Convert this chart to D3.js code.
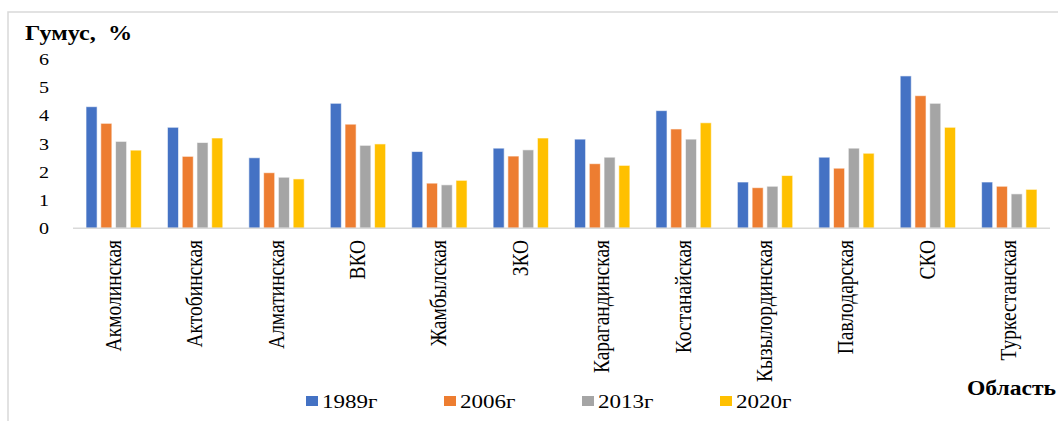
<!DOCTYPE html>
<html>
<head>
<meta charset="utf-8">
<script src="https://cdn.jsdelivr.net/npm/d3@7"></script>
<style>
  body { margin: 0; background: #fff; }
  svg text { font-family: "Liberation Serif", "Times New Roman", serif; fill: #000; }
</style>
</head>
<body>
<div id="chart"></div>
<script>
const regions = ["Акмолинская", "Актобинская", "Алматинская", "ВКО", "Жамбылская", "ЗКО",
    "Карагандинская", "Костанайская", "Кызылординская", "Павлодарская", "СКО", "Туркестанская"];
const years = ["1989г", "2006г", "2013г", "2020г"];
const v1989 = [4.31, 3.58, 2.50, 4.43, 2.72, 2.84, 3.16, 4.17, 1.64, 2.52, 5.40, 1.64];
const v2006 = [3.72, 2.55, 1.97, 3.69, 1.60, 2.56, 2.29, 3.52, 1.44, 2.13, 4.70, 1.49];
const v2013 = [3.08, 3.04, 1.81, 2.94, 1.54, 2.78, 2.52, 3.16, 1.49, 2.84, 4.43, 1.22];
const v2020 = [2.77, 3.20, 1.75, 2.99, 1.70, 3.20, 2.23, 3.74, 1.87, 2.66, 3.58, 1.38];
const yTicks = [0, 1, 2, 3, 4, 5, 6];
const colors = ["#4472C4", "#ED7D31", "#A5A5A5", "#FFC000"];

const series = [v1989, v2006, v2013, v2020];
const width = 1058, height = 421;
const sx = 1.18; // the source picture is stretched horizontally

const svg = d3.select("#chart").append("svg")
    .attr("width", width)
    .attr("height", height);

// outer frame
svg.append("rect")
    .attr("x", 8).attr("y", 12)
    .attr("width", width + 20).attr("height", height + 20)
    .attr("fill", "none")
    .attr("stroke", "#d9d9d9")
    .attr("stroke-width", 1.5);

const x = d3.scaleBand()
    .domain(regions)
    .range([73, 1050])
    .paddingInner(0.32)
    .paddingOuter(0.16);

const xSub = d3.scaleBand()
    .domain(years)
    .range([0, x.bandwidth()])
    .paddingInner(0.25);

const y = d3.scaleLinear()
    .domain([0, 6])
    .range([228.3, 59]);

// y tick labels
svg.append("g").selectAll("text")
    .data(yTicks)
    .enter().append("text")
    .attr("text-anchor", "end")
    .attr("transform", d => `translate(49,${y(d) + 6}) scale(${sx},1)`)
    .attr("font-size", 17)
    .text(d => d);

// bars
const groups = svg.append("g").selectAll("g")
    .data(regions)
    .enter().append("g")
    .attr("transform", d => `translate(${x(d)},0)`);

groups.selectAll("rect")
    .data((d, i) => years.map((yr, j) => ({ yr, value: series[j][i], color: colors[j] })))
    .enter().append("rect")
    .attr("x", d => xSub(d.yr))
    .attr("y", d => y(d.value))
    .attr("width", xSub.bandwidth())
    .attr("height", d => y(0) - y(d.value))
    .attr("fill", d => d.color)
    .attr("stroke", "rgba(255,255,255,0.6)")
    .attr("stroke-width", 1);

// x axis line
svg.append("line")
    .attr("x1", 73).attr("x2", 1050)
    .attr("y1", y(0)).attr("y2", y(0))
    .attr("stroke", "#d9d9d9")
    .attr("stroke-width", 1.5);

// category labels
svg.append("g").selectAll("text")
    .data(regions)
    .enter().append("text")
    .attr("text-anchor", "end")
    .attr("transform", d => `translate(${x(d) + x.bandwidth() / 2 + 7},240) scale(${sx},1) rotate(-90)`)
    .attr("font-size", 19.5)
    .text(d => d);

// axis titles
svg.append("text")
    .attr("transform", `translate(25,40) scale(${sx},1)`)
    .attr("font-size", 20.5)
    .attr("font-weight", "bold")
    .attr("xml:space", "preserve")
    .text("Гумус,  %");

svg.append("text")
    .attr("transform", `translate(967,395) scale(${sx},1)`)
    .attr("font-size", 20)
    .attr("font-weight", "bold")
    .text("Область");

// legend
const legend = svg.append("g").selectAll("g")
    .data(years)
    .enter().append("g")
    .attr("transform", (d, i) => `translate(${306 + i * 138},0)`);

legend.append("rect")
    .attr("x", 0).attr("y", 396)
    .attr("width", 12).attr("height", 10)
    .attr("fill", (d, i) => colors[i]);

legend.append("text")
    .attr("transform", `translate(16,408) scale(${sx},1)`)
    .attr("font-size", 19.5)
    .text(d => d);
</script>
</body>
</html>
